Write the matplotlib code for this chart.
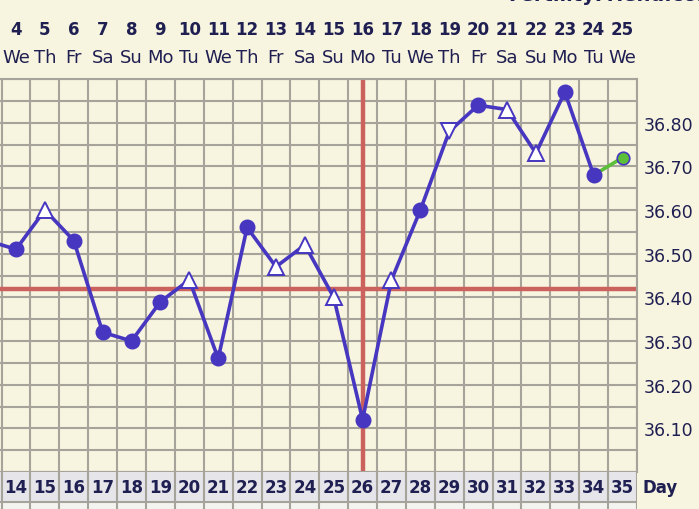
import numpy as np
import matplotlib
matplotlib.use("Agg")
import matplotlib.pyplot as plt
import matplotlib.transforms as mtransforms

# cycle days shown and the temperature readings
days = list(range(13, 36))
temps = [36.53, 36.51, 36.60, 36.53, 36.32, 36.30, 36.39, 36.44, 36.26, 36.56,
         36.47, 36.52, 36.40, 36.12, 36.44, 36.60, 36.78, 36.84, 36.83, 36.73,
         36.87, 36.68, 36.72]
shapes = ['o', 'o', '^', 'o', 'o', 'o', 'o', '^', 'o', 'o', '^', '^', '^', 'o',
          '^', 'o', 'v', 'o', '^', '^', 'o', 'o', 'o']

# header rows (dates and weekdays) for cycle days 14..35
header_days = list(range(14, 36))
dates = list(range(4, 26))
weekdays = ['We', 'Th', 'Fr', 'Sa', 'Su', 'Mo', 'Tu', 'We', 'Th', 'Fr', 'Sa',
            'Su', 'Mo', 'Tu', 'We', 'Th', 'Fr', 'Sa', 'Su', 'Mo', 'Tu', 'We']

coverline = 36.42
ovulation_day = 26
ytick_vals = [36.10, 36.20, 36.30, 36.40, 36.50, 36.60, 36.70, 36.80]

cream = '#f7f4df'
grid_c = '#a5a39a'
navy = '#1f1f52'
blue = '#4636c0'
green = '#5cbf3a'
red = '#cc625e'

W, H = 699, 510
fig = plt.figure(figsize=(W / 100, H / 100), dpi=100)
fig.patch.set_facecolor(cream)

xlim = (14 - 16 / 28.86, 35.5)
right_px = 637
ax = fig.add_axes([0, 1 - 473 / H, right_px / W, (473 - 80) / H])
ax.set_facecolor(cream)
ax.set_xlim(*xlim)
ax.set_ylim(36.0, 36.9)

ax.set_xticks(np.arange(13.5, 36, 1))
ax.set_xticklabels([])
ax.set_yticks(np.arange(36.0, 36.91, 0.05))
ax.set_yticklabels([f'{v:.2f}' if round(v * 100) in [round(t * 100) for t in ytick_vals] else ''
                    for v in np.arange(36.0, 36.91, 0.05)])
ax.yaxis.tick_right()
ax.tick_params(length=0, labelsize=12.5, labelcolor=navy, pad=5)
ax.tick_params(axis='x', bottom=False, labelbottom=False)
ax.grid(True, color=grid_c, linewidth=1.5)
ax.set_axisbelow(True)
for s in ax.spines.values():
    s.set_color(grid_c)
    s.set_linewidth(1.5)
ax.spines['left'].set_visible(False)

# coverline and ovulation line
ax.axhline(coverline, color=red, linewidth=3.2, zorder=2)
ax.axvline(ovulation_day, color=red, linewidth=3.2, zorder=2)

# temperature line
ax.plot(days[:-1], temps[:-1], color=blue, linewidth=2.6, zorder=3)
ax.plot(days[-2:], temps[-2:], color=green, linewidth=2.6, zorder=3)
for d, t, m in zip(days[:-1], temps[:-1], shapes[:-1]):
    if m == 'o':
        ax.plot(d, t, marker='o', ms=10.5, color=blue, zorder=4)
    else:
        ax.plot(d, t, marker=m, ms=11, mfc='white', mec=blue, mew=1.4, zorder=4)
ax.plot(days[-1], temps[-1], marker='o', ms=9, mfc=green, mec=blue, mew=1.2, zorder=4)

# day label row
ax2 = fig.add_axes([0, 0, right_px / W, 37 / H])
ax2.set_xlim(*xlim)
ax2.set_ylim(37, 0)
ax2.axhspan(0, 30, color='#e5e5ea', zorder=0)
ax2.axhspan(30, 37, color='#f3f3ef', zorder=0)
for x in np.arange(13.5, 36, 1):
    ax2.axvline(x, color=grid_c, linewidth=1.5, zorder=1)
ax2.axhline(30, color=grid_c, linewidth=1.5, zorder=1)
ax2.axis('off')
for d in header_days:
    ax2.text(d, 15, str(d), ha='center', va='center', fontsize=12,
             fontweight='bold', color=navy)

fig.text((right_px + 5) / W, 1 - 488 / H, 'Day', ha='left', va='center',
         fontsize=12, fontweight='bold', color=navy)

# header rows
trans = mtransforms.blended_transform_factory(ax.transData, fig.transFigure)
for d, dt, wd in zip(header_days, dates, weekdays):
    fig.text(d, 1 - 30 / H, str(dt), transform=trans, ha='center', va='center',
             fontsize=12, fontweight='bold', color=navy)
    fig.text(d, 1 - 58 / H, wd, transform=trans, ha='center', va='center',
             fontsize=13, color=navy)

# site title, cut off at the top edge as in the source image
fig.text(508 / W, 1 - 1 / H, 'FertilityFriend.com', ha='left', va='baseline',
         fontsize=14, fontweight='bold', color=navy)

fig.savefig('out.png', dpi=100, facecolor=cream)
